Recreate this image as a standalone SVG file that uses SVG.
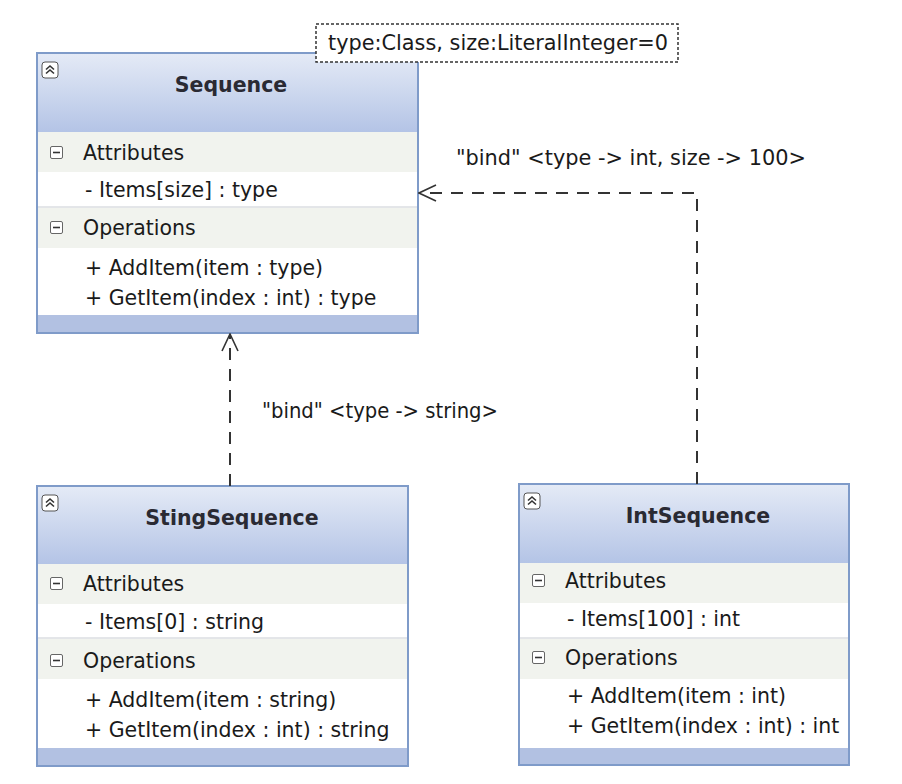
<svg xmlns="http://www.w3.org/2000/svg" width="902" height="784" viewBox="0 0 902 784">
<defs>
<linearGradient id="hdr" x1="0" y1="0" x2="0" y2="1">
<stop offset="0" stop-color="#e4eaf6"/>
<stop offset="1" stop-color="#b4c4e6"/>
</linearGradient>
<marker id="open" viewBox="0 0 20 20" refX="19" refY="10" markerWidth="20" markerHeight="20" markerUnits="userSpaceOnUse" orient="auto">
<path d="M2 2 L19 10 L2 18" fill="none" stroke="#333" stroke-width="1.6"/>
</marker>
<g id="collapse">
<rect x="0" y="0" width="16" height="16" rx="3" fill="#fff" stroke="#555" stroke-width="1"/>
<path d="M4 7.5 L8 4 L12 7.5 M4 11.5 L8 8 L12 11.5" fill="none" stroke="#333" stroke-width="1.6"/>
</g>
<g id="minus">
<rect x="0.5" y="0.5" width="12" height="12" rx="1.5" fill="#fff" stroke="#666" stroke-width="1"/>
<path d="M3 6.5 H10" stroke="#333" stroke-width="1.6"/>
</g>
</defs>
<style>
.box{fill:#ffffff;stroke:#7f9bc9;stroke-width:2}
.comp{fill:#f1f3ee}
.foot{fill:#b2c1e2}
.sep{stroke:#c8ccd2;stroke-width:1}
.t{font-family:"DejaVu Sans","Noto Sans",sans-serif;font-size:20.5px;fill:#1a1a1a}
.title{font-family:"DejaVu Sans","Noto Sans",sans-serif;font-size:20.5px;font-weight:bold;fill:#2a2a33;text-anchor:middle}
.conn{fill:none;stroke:#333;stroke-width:2;stroke-dasharray:12 9}
.lbl{font-family:"DejaVu Sans","Noto Sans",sans-serif;font-size:20.5px;fill:#1a1a1a}
</style>
<rect width="902" height="784" fill="#ffffff"/>

<g id="Sequence">
<rect class="box" x="37" y="53" width="381" height="280"/>
<rect x="38" y="54" width="379" height="78" fill="url(#hdr)"/>
<rect class="comp" x="38" y="132" width="379" height="40"/>
<line class="sep" x1="38" y1="207" x2="417" y2="207"/>
<rect class="comp" x="38" y="208" width="379" height="40"/>
<rect class="foot" x="38" y="315" width="379" height="17"/>
<use href="#collapse" x="42" y="62"/>
<text class="title" x="231" y="92">Sequence</text>
<use href="#minus" x="50" y="146"/>
<text class="t" x="83" y="160">Attributes</text>
<text class="t" x="85" y="197">- Items[size] : type</text>
<use href="#minus" x="50" y="221"/>
<text class="t" x="83" y="235">Operations</text>
<text class="t" x="85" y="275">+ AddItem(item : type)</text>
<text class="t" x="85" y="305">+ GetItem(index : int) : type</text>
</g>

<g id="template">
<rect x="316" y="24" width="362" height="38" fill="#fff" stroke="#333" stroke-width="1.5" stroke-dasharray="3 2"/>
<text class="t" x="328" y="50" textLength="340" lengthAdjust="spacingAndGlyphs">type:Class, size:LiteralInteger=0</text>
</g>

<g id="StingSequence">
<rect class="box" x="37" y="486" width="371" height="280"/>
<rect x="38" y="487" width="369" height="77" fill="url(#hdr)"/>
<rect class="comp" x="38" y="564" width="369" height="40"/>
<line class="sep" x1="38" y1="638" x2="407" y2="638"/>
<rect class="comp" x="38" y="639" width="369" height="40"/>
<rect class="foot" x="38" y="748" width="369" height="17"/>
<use href="#collapse" x="42" y="495"/>
<text class="title" x="232" y="525">StingSequence</text>
<use href="#minus" x="50" y="577"/>
<text class="t" x="83" y="591">Attributes</text>
<text class="t" x="85" y="629">- Items[0] : string</text>
<use href="#minus" x="50" y="654"/>
<text class="t" x="83" y="668">Operations</text>
<text class="t" x="85" y="707">+ AddItem(item : string)</text>
<text class="t" x="85" y="737">+ GetItem(index : int) : string</text>
</g>

<g id="IntSequence">
<rect class="box" x="519" y="484" width="330" height="281"/>
<rect x="520" y="485" width="328" height="78" fill="url(#hdr)"/>
<rect class="comp" x="520" y="563" width="328" height="40"/>
<line class="sep" x1="520" y1="638" x2="848" y2="638"/>
<rect class="comp" x="520" y="639" width="328" height="40"/>
<rect class="foot" x="520" y="748" width="328" height="16"/>
<use href="#collapse" x="524" y="493"/>
<text class="title" x="698" y="523">IntSequence</text>
<use href="#minus" x="532" y="574"/>
<text class="t" x="565" y="588">Attributes</text>
<text class="t" x="567" y="626">- Items[100] : int</text>
<use href="#minus" x="532" y="651"/>
<text class="t" x="565" y="665">Operations</text>
<text class="t" x="567" y="703">+ AddItem(item : int)</text>
<text class="t" x="567" y="733">+ GetItem(index : int) : int</text>
</g>

<g id="connectors">
<path class="conn" d="M230 486 V334" marker-end="url(#open)"/>
<text class="lbl" x="262" y="418" textLength="236" lengthAdjust="spacingAndGlyphs">"bind" &lt;type -&gt; string&gt;</text>
<path class="conn" d="M697 484 V193 H419" marker-end="url(#open)"/>
<text class="lbl" x="456" y="165" textLength="350" lengthAdjust="spacingAndGlyphs">"bind" &lt;type -&gt; int, size -&gt; 100&gt;</text>
</g>
</svg>
